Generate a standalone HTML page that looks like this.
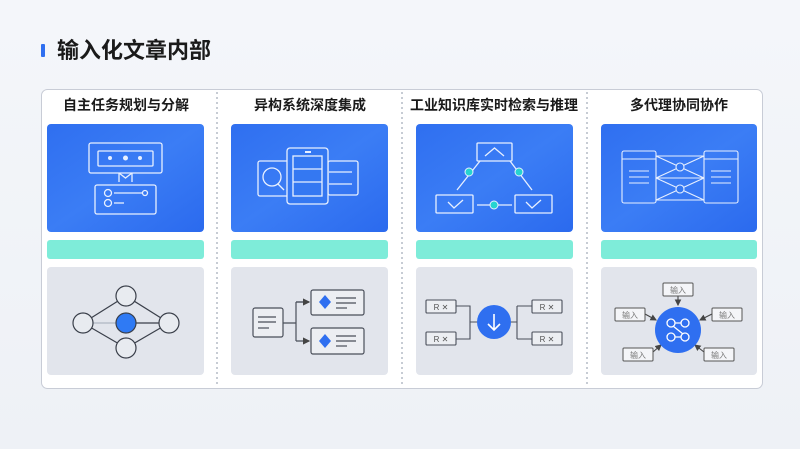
<!DOCTYPE html>
<html><head><meta charset="utf-8"><style>
body{margin:0;width:800px;height:449px;overflow:hidden;background:linear-gradient(180deg,#f4f6fa,#eef1f6);}
svg{display:block}
text{font-family:"Liberation Sans","Noto Sans CJK SC",sans-serif}
</style></head><body>
<svg width="800" height="449" viewBox="0 0 800 449" xmlns="http://www.w3.org/2000/svg">
<defs>
<linearGradient id="bl" x1="0" y1="0" x2="1" y2="1"><stop offset="0" stop-color="#2f6ff0"/><stop offset="0.5" stop-color="#3b7df5"/><stop offset="1" stop-color="#2b6aee"/></linearGradient>
<marker id="ar" markerWidth="6" markerHeight="6" refX="5" refY="3" orient="auto"><path d="M0,0 L6,3 L0,6z" fill="#444"/></marker>
</defs>
<rect x="41" y="44" width="4" height="13" fill="#2f6ff0" rx="1"/>
<text x="57" y="58" font-size="22" font-weight="bold" fill="#1a1a1a">输入化文章内部</text>
<rect x="41.5" y="89.5" width="721" height="299" rx="6" fill="#fff" stroke="#c8ccd6"/>
<g stroke="#8f98aa" stroke-dasharray="2 3" stroke-width="1">
<line x1="217" y1="92" x2="217" y2="386"/><line x1="402" y1="92" x2="402" y2="386"/><line x1="587" y1="92" x2="587" y2="386"/></g>
<g font-size="14" font-weight="bold" fill="#1a1a1a" text-anchor="middle">
<text x="126" y="110">自主任务规划与分解</text><text x="310" y="110">异构系统深度集成</text><text x="494" y="110">工业知识库实时检索与推理</text><text x="679" y="110">多代理协同协作</text></g>
<g>
<rect x="47" y="124" width="157" height="108" rx="4" fill="url(#bl)"/><rect x="231" y="124" width="157" height="108" rx="4" fill="url(#bl)"/><rect x="416" y="124" width="157" height="108" rx="4" fill="url(#bl)"/><rect x="601" y="124" width="156" height="108" rx="4" fill="url(#bl)"/>
<rect x="47" y="240" width="157" height="19" rx="3" fill="#7eecd9"/><rect x="231" y="240" width="157" height="19" rx="3" fill="#7eecd9"/><rect x="416" y="240" width="157" height="19" rx="3" fill="#7eecd9"/><rect x="601" y="240" width="156" height="19" rx="3" fill="#7eecd9"/>
<rect x="47" y="267" width="157" height="108" rx="4" fill="#e2e5ec"/><rect x="231" y="267" width="157" height="108" rx="4" fill="#e2e5ec"/><rect x="416" y="267" width="157" height="108" rx="4" fill="#e2e5ec"/><rect x="601" y="267" width="156" height="108" rx="4" fill="#e2e5ec"/>
</g>
<!-- col1 blue -->
<g stroke="#e8f0ff" stroke-width="1.3" fill="none">
<rect x="89" y="143" width="73" height="30" rx="2"/><rect x="98" y="151" width="55" height="15" rx="1"/>
<path d="M119,173 V182 M132,173 V182 M119,173 L125.5,178 L132,173"/>
<rect x="95" y="185" width="61" height="29" rx="2"/>
<circle cx="108" cy="193" r="3.5"/><circle cx="108" cy="203" r="3.5"/><circle cx="145" cy="193" r="2.5"/>
<line x1="114" y1="193" x2="142" y2="193"/><line x1="114" y1="203" x2="124" y2="203"/>
</g>
<g fill="#e8f0ff"><circle cx="110" cy="158" r="2"/><circle cx="125.5" cy="158" r="2.5"/><circle cx="140" cy="158" r="2"/></g>
<!-- col2 blue -->
<g stroke="#e8f0ff" stroke-width="1.3" fill="none">
<rect x="258" y="161" width="32" height="35" rx="2"/><circle cx="272" cy="177" r="9"/><line x1="278" y1="184" x2="284" y2="190"/>
<rect x="328" y="161" width="30" height="34" rx="2"/><line x1="329" y1="172" x2="352" y2="172"/><line x1="329" y1="184" x2="352" y2="184"/>
<rect x="287" y="148" width="41" height="56" rx="3" fill="#3478f2"/>
<rect x="293" y="156" width="29" height="40"/><line x1="293" y1="169" x2="322" y2="169"/><line x1="293" y1="182" x2="322" y2="182"/>
</g><rect x="305" y="151" width="6" height="2" fill="#e8f0ff"/>
<!-- col3 blue -->
<g stroke="#e8f0ff" stroke-width="1.3" fill="none">
<rect x="477" y="143" width="35" height="18" rx="1"/><path d="M485,156 L494.5,148 L504,156"/>
<rect x="436" y="195" width="37" height="18" rx="1"/><path d="M448,202 L454,208 L463,200"/>
<rect x="515" y="195" width="37" height="18" rx="1"/><path d="M526,202 L532,208 L541,200"/>
<line x1="480" y1="161" x2="457" y2="190"/><line x1="510" y1="161" x2="532" y2="190"/><line x1="477" y1="205" x2="512" y2="205"/>
</g>
<g fill="#26d4d0" stroke="#e8f0ff"><circle cx="469" cy="172" r="4"/><circle cx="519" cy="172" r="4"/><circle cx="494" cy="205" r="4"/></g>
<!-- col4 blue -->
<g stroke="#e8f0ff" stroke-width="1.1" fill="none">
<rect x="622" y="151" width="34" height="52" rx="2"/><line x1="622" y1="159" x2="656" y2="159"/>
<rect x="704" y="151" width="34" height="52" rx="2"/><line x1="704" y1="159" x2="738" y2="159"/>
<line x1="629" y1="171" x2="649" y2="171"/><line x1="629" y1="177" x2="649" y2="177"/><line x1="629" y1="183" x2="649" y2="183"/>
<line x1="711" y1="171" x2="731" y2="171"/><line x1="711" y1="177" x2="731" y2="177"/><line x1="711" y1="183" x2="731" y2="183"/>
<path d="M656,156 H704 M656,178 H704 M656,200 H704 M656,156 L704,178 M656,178 L704,156 M656,178 L704,200 M656,200 L704,178"/>
<circle cx="680" cy="167" r="4" fill="#3478f2"/><circle cx="680" cy="189" r="4" fill="#3478f2"/>
</g>
<!-- col1 gray -->
<g stroke="#3a3f4a" stroke-width="1.2" fill="#e8ebf0">
<line x1="83" y1="323" x2="126" y2="296"/><line x1="126" y1="296" x2="169" y2="323"/><line x1="83" y1="323" x2="126" y2="348"/><line x1="126" y1="348" x2="169" y2="323"/>
<line x1="93" y1="323" x2="116" y2="323" stroke="#b0b6c2"/><line x1="136" y1="323" x2="159" y2="323"/>
<circle cx="126" cy="296" r="10"/><circle cx="83" cy="323" r="10"/><circle cx="169" cy="323" r="10"/><circle cx="126" cy="348" r="10"/>
<circle cx="126" cy="323" r="10" fill="#2f7af4"/>
</g>
<!-- col2 gray -->
<g stroke="#4a4f5a" stroke-width="1.2" fill="#eceef2">
<rect x="253" y="308" width="30" height="29" rx="2"/>
<line x1="258" y1="317" x2="276" y2="317"/><line x1="258" y1="322" x2="276" y2="322"/><line x1="258" y1="328" x2="269" y2="328"/>
<path d="M283,323 H296 M296,302 V341 M296,302 H309 M296,341 H309" fill="none" marker-end="url(#ar)"/>
<path d="M296,302 H309" fill="none" marker-end="url(#ar)"/>
<rect x="311" y="290" width="53" height="25" rx="2"/><rect x="311" y="328" width="53" height="26" rx="2"/>
<line x1="336" y1="298" x2="356" y2="298"/><line x1="336" y1="303" x2="356" y2="303"/><line x1="336" y1="308" x2="347" y2="308"/>
<line x1="336" y1="336" x2="356" y2="336"/><line x1="336" y1="341" x2="356" y2="341"/><line x1="336" y1="346" x2="347" y2="346"/>
</g>
<g fill="#2f6ff0"><path d="M325,295 L331,302 L325,309 L319,302z"/><path d="M325,334 L331,341 L325,348 L319,341z"/></g>
<!-- col3 gray -->
<g stroke="#4a4f5a" stroke-width="1.1" fill="#eceef2">
<path d="M456,306 H470 V339 H456 M470,322 H478 M510,322 H517 M517,306 V339 M517,306 H532 M517,339 H532" fill="none"/>
<rect x="426" y="300" width="30" height="13" rx="1"/><rect x="426" y="332" width="30" height="13" rx="1"/>
<rect x="532" y="300" width="30" height="13" rx="1"/><rect x="532" y="332" width="30" height="13" rx="1"/>
</g>
<g font-size="8" fill="#555" text-anchor="middle"><text x="441" y="310">R ✕</text><text x="441" y="342">R ✕</text><text x="547" y="310">R ✕</text><text x="547" y="342">R ✕</text></g>
<circle cx="494" cy="322" r="17" fill="#2f6ff0"/>
<path d="M494,314 V330 M488,324 L494,330 L500,324" stroke="#fff" stroke-width="1.6" fill="none"/>
<!-- col4 gray -->
<g stroke="#444" stroke-width="1.1" fill="none" marker-end="url(#ar)">
<line x1="678" y1="296" x2="678" y2="305"/><line x1="645" y1="314" x2="656" y2="320"/><line x1="712" y1="314" x2="700" y2="320"/>
<line x1="653" y1="352" x2="661" y2="345"/><line x1="704" y1="352" x2="695" y2="345"/>
</g>
<g stroke="#555" stroke-width="1" fill="#f4f5f8">
<rect x="663" y="283" width="30" height="13" rx="1"/><rect x="615" y="308" width="30" height="13" rx="1"/><rect x="712" y="308" width="30" height="13" rx="1"/>
<rect x="623" y="348" width="30" height="13" rx="1"/><rect x="704" y="348" width="30" height="13" rx="1"/>
</g>
<g font-size="8" fill="#777" text-anchor="middle"><text x="678" y="293">输入</text><text x="630" y="318">输入</text><text x="727" y="318">输入</text><text x="638" y="358">输入</text><text x="719" y="358">输入</text></g>
<circle cx="678" cy="330" r="23" fill="#2f6ff0"/>
<g stroke="#fff" stroke-width="1.3" fill="none">
<circle cx="671" cy="323" r="4"/><circle cx="685" cy="323" r="4"/><circle cx="671" cy="337" r="4"/><circle cx="685" cy="337" r="4"/>
<path d="M675,323 H681 M675,337 H681 M673,326 L683,334"/></g>
</svg>
</body></html>
